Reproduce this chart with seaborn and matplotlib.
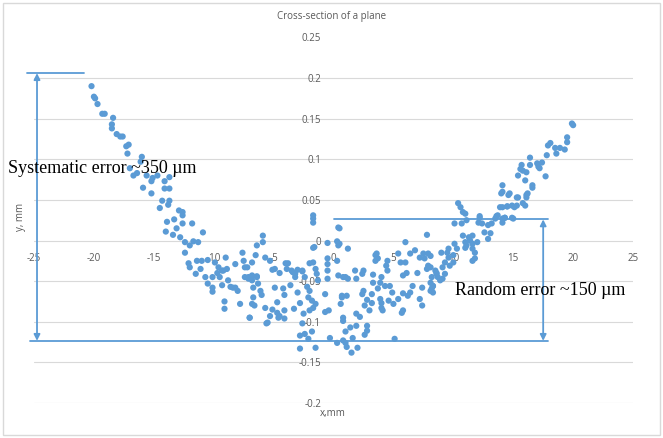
import numpy as np
import pandas as pd
import matplotlib
matplotlib.use("Agg")
import matplotlib.pyplot as plt
from matplotlib.patches import Rectangle
import seaborn as sns


# ==================================
# DATA
# ==================================

x_left = [
    -20.2, -20.0, -19.9, -19.7, -19.3, -19.1, -18.4, -18.5, -18.5, -18.1,
    -17.8, -17.6, -17.1, -17.3, -17.2, -16.0, -16.1, -17.0, -16.7, -16.4,
    -15.6, -14.7, -15.2, -15.1, -15.9, -15.2, -14.1, -13.7, -14.1, -13.7,
    -14.3, -13.7, -14.5, -13.8, -12.9, -12.6, -13.9, -13.3, -12.6, -14.0,
    -13.4, -13.1, -12.6, -11.8, -12.8, -12.4, -12.0, -11.7, -11.3, -10.9,
    -12.4, -12.1, -12.0, -11.4, -11.1, -11.5, -10.7, -10.5, -10.1, -10.5,
    -9.9, -9.6, -9.7, -9.3, -9.0, -8.9, -9.5, -10.1, -9.3, -8.8,
    -8.6, -8.2, -8.0, -8.2, -7.6, -7.5, -7.2, -9.1, -9.1, -7.8,
    -7.1, -7.0, -11.0, -10.1, -9.2, -8.4, -7.4, -6.8, -6.4, -6.7,
]
y_left = [
    0.190, 0.177, 0.175, 0.168, 0.156, 0.156, 0.151, 0.143, 0.138, 0.131,
    0.128, 0.128, 0.118, 0.116, 0.107, 0.103, 0.097, 0.089, 0.080, 0.083,
    0.080, 0.080, 0.073, 0.077, 0.065, 0.058, 0.073, 0.078, 0.064, 0.064,
    0.049, 0.049, 0.040, 0.044, 0.037, 0.035, 0.023, 0.026, 0.031, 0.011,
    0.007, 0.015, 0.021, 0.021, 0.004, -0.002, -0.006, -0.001, -0.002, 0.010,
    -0.015, -0.028, -0.033, -0.025, -0.035, -0.041, -0.045, -0.053, -0.063, -0.024,
    -0.027, -0.033, -0.040, -0.037, -0.021, -0.035, -0.045, -0.045, -0.055, -0.049,
    -0.057, -0.058, -0.062, -0.029, -0.015, -0.025, -0.033, -0.075, -0.084, -0.078,
    -0.045, -0.095, -0.025, -0.058, -0.037, -0.058, -0.045, -0.043, -0.045, -0.058,
]

x_mid = [
    -7.4, -7.1, -6.8, -6.4, -6.3, -6.4, -5.9, -5.9, -6.5, -6.8,
    -6.1, -6.0, -6.7, -6.8, -6.6, -7.0, -5.7, -5.1, -5.3, -5.6,
    -5.5, -5.7, -5.1, -4.9, -4.5, -4.2, -4.1, -4.7, -4.7, -4.6,
    -4.5, -4.1, -4.1, -3.8, -3.9, -3.5, -3.0, -3.2, -3.0, -3.3,
    -2.8, -2.6, -2.4, -2.2, -2.1, -2.0, -1.7, -1.5, -1.4, -1.8,
    -1.5, -1.7, -2.0, -2.5, -2.6, -2.8, -2.4, -2.1, -1.8, -1.5,
    -2.8, -1.7, -1.7, -1.6, -0.5, -0.5, -0.5, -0.5, -0.5, -0.7,
    -0.7, -0.4, -0.3, 0.3, 0.4, 0.3, 0.4, 0.8, 0.7, 0.6,
    0.8, 0.8, 0.3, -5.3, -4.9, -4.0, -3.4, -3.2, -3.6, -2.6,
    -1.7, -1.3, -2.0, -1.7, 0.4,
]
y_mid = [
    -0.033, -0.047, -0.049, -0.044, -0.053, -0.006, 0.006, -0.002, -0.018, -0.027,
    -0.062, -0.067, -0.070, -0.078, -0.080, -0.095, -0.083, -0.085, -0.093, -0.102,
    -0.101, -0.021, -0.036, -0.058, -0.040, -0.059, -0.067, -0.076, -0.089, -0.095,
    -0.093, -0.086, -0.096, -0.028, -0.035, -0.037, -0.036, -0.041, -0.064, -0.084,
    -0.077, -0.038, -0.045, -0.057, -0.070, -0.028, -0.027, -0.035, -0.041, -0.074,
    -0.078, -0.083, -0.086, -0.090, -0.102, -0.117, -0.115, -0.121, -0.112, -0.132,
    -0.133, 0.031, 0.022, -0.008, -0.003, -0.022, -0.029, -0.037, -0.047, -0.066,
    -0.088, -0.086, -0.120, -0.001, -0.006, -0.025, -0.043, -0.045, -0.070, -0.078,
    -0.095, -0.123, -0.126, -0.025, -0.035, -0.028, -0.039, -0.045, -0.055, -0.037,
    -0.009, -0.049, -0.062, 0.027, 0.016,
]

x_right = [
    0.5, 1.2, 0.5, 1.0, 1.2, 0.7, 1.1, 1.8, 1.9, 2.5,
    2.4, 2.5, 2.4, 2.8, 2.6, 1.9, 2.2, 0.8, 1.4, 1.9,
    1.0, 1.6, 1.0, 1.1, 1.5, 2.0, 2.8, 2.8, 2.6, 3.0,
    3.2, 3.2, 3.3, 3.3, 3.5, 3.5, 3.6, 3.7, 4.0, 3.9,
    3.7, 3.9, 4.0, 4.1, 4.0, 4.5, 4.4, 4.5, 4.3, 4.7,
    4.9, 4.6, 5.0, 5.4, 5.6, 6.0, 6.1, 5.8, 5.4, 5.8,
    5.8, 5.7, 6.0, 6.4, 6.6, 6.4, 6.2, 6.8, 7.0, 7.2,
    7.4, 7.2, 7.4, 7.5, 7.6, 7.9, 7.8, 7.9, 7.8, 8.1,
    8.2, 8.3, 8.5, 8.6, 8.3, 5.1,
]
y_right = [
    0.015, -0.010, -0.004, -0.045, -0.047, -0.068, -0.068, -0.037, -0.047, -0.037,
    -0.041, -0.062, -0.066, -0.073, -0.080, -0.090, -0.094, -0.099, -0.107, -0.105,
    -0.112, -0.120, -0.126, -0.131, -0.138, -0.132, -0.105, -0.111, -0.116, -0.086,
    -0.077, -0.066, -0.052, -0.042, -0.025, -0.018, -0.016, -0.022, -0.045, -0.052,
    -0.059, -0.072, -0.083, -0.086, -0.077, -0.025, -0.031, -0.037, -0.056, -0.056,
    -0.064, -0.074, -0.078, -0.016, -0.027, -0.027, -0.040, -0.043, -0.072, -0.065,
    -0.086, -0.089, -0.002, -0.016, -0.056, -0.064, -0.068, -0.012, -0.040, -0.021,
    -0.058, -0.072, -0.080, -0.016, -0.022, -0.016, -0.035, -0.031, 0.007, -0.052,
    -0.059, -0.064, -0.037, -0.041, -0.056, -0.121,
]

x_up = [
    8.1, 8.1, 8.2, 8.1, 8.3, 8.6, 8.7, 8.9, 9.1, 9.3,
    9.1, 9.3, 9.0, 9.5, 9.6, 9.6, 9.7, 10.0, 10.0, 10.1,
    10.3, 10.1, 10.4, 10.6, 10.8, 10.7, 11.0, 11.1, 10.8, 11.0,
    11.0, 11.1, 11.4, 11.3, 11.6, 11.6, 11.6, 11.8, 11.6, 11.8,
    12.0, 12.2, 12.1, 12.4, 12.6, 12.9, 13.1, 13.2, 12.9, 13.5,
    13.7, 14.1, 14.1, 14.3, 14.5, 14.9, 14.1, 15.0, 15.3, 15.4,
    15.8, 16.1, 14.7, 14.1, 19.9, 20.0, 19.5, 19.5, 18.1, 17.9,
    18.5, 18.6, 18.9, 19.3, 17.8, 17.4, 17.0, 17.1, 17.2, 16.4,
    16.4, 15.7, 15.6, 15.8, 16.1, 15.4, 16.0, 17.7, 16.6, 16.6,
    14.1, 14.0, 14.6, 15.3, 16.2, 16.1, 13.9, 14.5, 15.1, 16.0,
    12.2, 13.6, 14.3, 14.9,
]
y_up = [
    -0.019, -0.033, -0.045, -0.062, -0.056, -0.040, -0.045, -0.049, -0.047, -0.041,
    -0.033, -0.027, -0.015, -0.015, -0.010, -0.021, -0.031, -0.027, -0.018, -0.004,
    -0.010, 0.021, 0.046, 0.041, 0.035, 0.021, 0.033, 0.025, 0.006, -0.002,
    -0.009, -0.006, 0.000, 0.004, 0.006, -0.004, -0.010, -0.015, -0.025, -0.022,
    -0.002, 0.028, 0.022, 0.021, 0.010, 0.002, 0.009, 0.021, 0.019, 0.027,
    0.031, 0.027, 0.022, 0.028, 0.042, 0.043, 0.041, 0.027, 0.043, 0.053,
    0.046, 0.056, 0.058, 0.060, 0.144, 0.142, 0.127, 0.121, 0.120, 0.117,
    0.114, 0.107, 0.114, 0.112, 0.105, 0.096, 0.095, 0.091, 0.089, 0.102,
    0.093, 0.093, 0.088, 0.086, 0.084, 0.080, 0.074, 0.079, 0.068, 0.065,
    0.068, 0.058, 0.056, 0.053, 0.058, 0.053, 0.041, 0.042, 0.041, 0.043,
    0.030, 0.030, 0.028, 0.028,
]

x_ticks = [-25, -20, -15, -10, -5, 0, 5, 10, 15, 20, 25]
y_ticks = [-0.2, -0.15, -0.1, -0.05, 0, 0.05, 0.1, 0.15, 0.2, 0.25]

title = "Cross-section of a plane"
x_label = "x,mm"
y_label = "y, mm"
sys_text = "Systematic error ~350 \u00b5m"
rand_text = "Random error ~150 \u00b5m"

# annotation levels (data units)
sys_top = 0.206
err_bottom = -0.1235
rand_top = 0.026


# ==================================
# PLOT
# ==================================

df = pd.DataFrame({
    "x": x_left + x_mid + x_right + x_up,
    "y": y_left + y_mid + y_right + y_up,
})

sns.set_style("white")
plt.rcParams["font.family"] = ["Open Sans", "DejaVu Sans"]

blue = "#5B9BD5"
grey = "#595959"

fig = plt.figure(figsize=(6.63, 4.38), dpi=100)
ax = fig.add_axes([0.0513, 0.0799, 0.9035, 0.8347])

sns.scatterplot(
    data=df, x="x", y="y",
    color=blue, s=20, edgecolor="none", ax=ax, zorder=3
)

ax.set_xlim(-25, 25)
ax.set_ylim(-0.2, 0.25)
ax.set_xticks(x_ticks)
ax.set_yticks(y_ticks)
ax.set_xticklabels([str(t) for t in x_ticks])
ax.set_yticklabels(["-0.2", "-0.15", "-0.1", "-0.05", "0",
                    "0.05", "0.1", "0.15", "0.2", "0.25"])

# axes cross at the origin like Excel
ax.spines["left"].set_position("zero")
ax.spines["bottom"].set_position("zero")
for side in ["left", "bottom", "top", "right"]:
    ax.spines[side].set_color("none")

ax.tick_params(axis="both", length=0, labelsize=7, labelcolor=grey)
ax.tick_params(axis="x", pad=9)
ax.tick_params(axis="y", pad=9)

ax.yaxis.grid(True, color="#D9D9D9", linewidth=0.8)
ax.xaxis.grid(False)
ax.set_axisbelow(True)
ax.yaxis.get_gridlines()[-1].set_visible(False)

ax.set_xlabel("")
ax.set_ylabel("")

fig.text(0.5, 0.963, title, ha="center", va="center", fontsize=7, color=grey)
fig.text(0.502, 0.057, x_label, ha="center", va="center", fontsize=7, color=grey)
fig.text(0.031, 0.505, y_label, ha="center", va="center", fontsize=7,
         color=grey, rotation=90)

# ==================================
# ERROR ANNOTATIONS
# ==================================

line_kw = dict(color=blue, linewidth=1.3, clip_on=False, zorder=4)
ax.plot([-25.6, -20.8], [sys_top, sys_top], **line_kw)
ax.plot([-25.3, 17.9], [err_bottom, err_bottom], **line_kw)
ax.plot([0, 17.9], [rand_top, rand_top], **line_kw)

arrow_kw = dict(arrowstyle="<|-|>", color=blue, lw=1.3,
                mutation_scale=9, shrinkA=0, shrinkB=0)
ax.annotate("", xy=(-24.75, sys_top), xytext=(-24.75, err_bottom),
            arrowprops=arrow_kw, annotation_clip=False)
ax.annotate("", xy=(17.5, rand_top), xytext=(17.5, err_bottom),
            arrowprops=arrow_kw, annotation_clip=False)

ax.text(-27.2, 0.089, sys_text, ha="left", va="center", fontsize=13,
        family=["Liberation Serif", "DejaVu Serif"], color="black",
        zorder=5, clip_on=False)
ax.text(10.1, -0.062, rand_text, ha="left", va="center", fontsize=13,
        family=["Liberation Serif", "DejaVu Serif"], color="black", zorder=5)

# light frame round the chart area
fig.patches.append(Rectangle((0.005, 0.007), 0.99, 0.986, transform=fig.transFigure,
                             fill=False, edgecolor="#D9D9D9", linewidth=1))

fig.savefig("out.png", dpi=100)
plt.close(fig)
